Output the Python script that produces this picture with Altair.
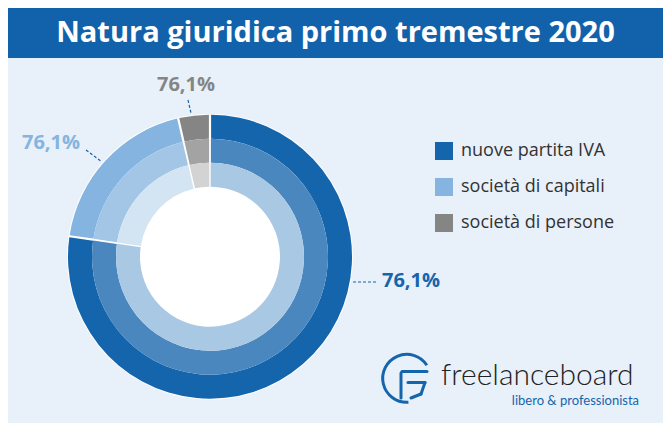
import math
import altair as alt
import pandas as pd

# ---- data ----
categories = ["nuove partita IVA", "società di capitali", "società di persone"]
shares = [77.3, 19.1, 3.6]
label_texts = ["76,1%", "76,1%", "76,1%"]
title_text = "Natura giuridica primo tremestre 2020"
brand_name = "freelanceboard"
brand_tag = "libero & professionista"

# ---- styles ----
BG = "#e8f0f9"
BANNER = "#1262ab"
outer_colors = ["#1565ad", "#84b4df", "#858585"]
mid_colors = ["#4a87be", "#a3c6e6", "#a3a3a3"]
inner_colors = ["#a9c8e3", "#d3e4f3", "#d3d3d3"]

df = pd.DataFrame({
    "category": categories,
    "share": shares,
    "idx": list(range(len(categories))),
    "c_mid": mid_colors,
    "c_inner": inner_colors,
})

W, H = 655, 415
CX, CY = 202, 248.7

base = alt.Chart(df)
one = alt.Chart(pd.DataFrame({"k": [0]}))

banner = one.mark_rect(color=BANNER).encode(
    x=alt.value(0), x2=alt.value(W), y=alt.value(0), y2=alt.value(50)
)
title = one.mark_text(
    text=title_text, font="Open Sans", fontWeight="bold", fontSize=29,
    color="white", align="center", baseline="alphabetic"
).encode(x=alt.value(327.5), y=alt.value(33.7))

white_disk = one.mark_arc(
    theta=0, theta2=2 * math.pi, radius=143, color="white"
).encode(x=alt.value(CX), y=alt.value(CY))

PAD = 0.012


def ring(r_in, r_out, color_enc):
    return base.mark_arc(radius=r_out, radius2=r_in, padAngle=PAD).encode(
        theta=alt.Theta("share:Q", stack=True),
        order=alt.Order("idx:Q"),
        color=color_enc,
        x=alt.value(CX),
        y=alt.value(CY),
    )


outer = ring(118, 142, alt.Color(
    "category:N",
    scale=alt.Scale(domain=categories, range=outer_colors),
    legend=alt.Legend(
        title=None, orient="none", legendX=427, legendY=134,
        symbolType="square", symbolSize=324, symbolStrokeWidth=0,
        symbolOpacity=1, labelFont="Open Sans", labelFontSize=18,
        labelColor="#333333", labelOffset=8, rowPadding=18, padding=0,
        labelLimit=300,
    ),
    sort=categories,
))
mid = ring(94, 118, alt.Color("c_mid:N", scale=None))
inner = ring(70, 94, alt.Color("c_inner:N", scale=None))


def label(text, x, y, color):
    return one.mark_text(
        text=text, font="Open Sans", fontWeight="bold", fontSize=20,
        color=color, align="center", baseline="middle"
    ).encode(x=alt.value(x), y=alt.value(y))


def seg(x1, y1, x2, y2, color, width=1.2, dash=None, cap="butt"):
    kw = dict(color=color, strokeWidth=width, strokeCap=cap)
    if dash:
        kw["strokeDash"] = dash
    return one.mark_rule(**kw).encode(
        x=alt.value(x1), y=alt.value(y1), x2=alt.value(x2), y2=alt.value(y2)
    )


lab_blue = label(label_texts[0], 403, 273, outer_colors[0])
lab_light = label(label_texts[1], 43, 135, outer_colors[1])
lab_grey = label(label_texts[2], 178, 77, outer_colors[2])

lead_blue = seg(345, 274, 368, 274, "#1565ad", dash=[3, 2])
lead_light = seg(78, 142, 94, 154, "#1565ad", dash=[3, 2])
lead_grey = seg(180, 92, 183, 105, "#1565ad", dash=[3, 2])

# logo
logo_arc = one.mark_arc(
    theta=3.07, theta2=7.28, radius=25.5, radius2=22.5, color="#1565ad"
).encode(x=alt.value(398.7), y=alt.value(370.3))
LC = "#1565ad"
logo_lines = [
    seg(393, 365, 393, 390, LC, 3, cap="round"),
    seg(394, 363.5, 419, 363.5, LC, 3, cap="round"),
    seg(400, 374.5, 417, 374.5, LC, 3, cap="round"),
    seg(417, 374.5, 413, 386, LC, 3, cap="round"),
    seg(413, 386, 403, 390, LC, 3, cap="round"),
]
brand = one.mark_text(
    text=brand_name, font="Lato", fontWeight=300, fontSize=30,
    color="#222222", align="left", baseline="alphabetic"
).encode(x=alt.value(433), y=alt.value(377))
tag = one.mark_text(
    text=brand_tag, font="Lato", fontSize=13,
    color="#1565ad", align="right", baseline="alphabetic"
).encode(x=alt.value(631), y=alt.value(396.5))

chart = alt.layer(
    banner, title, white_disk, outer, mid, inner,
    lead_blue, lead_light, lead_grey, lab_blue, lab_light, lab_grey,
    logo_arc, *logo_lines, brand, tag,
).properties(
    width=W, height=H,
    autosize=alt.AutoSizeParams(type="fit", contains="padding"),
    padding=0,
    background=BG,
).configure_view(stroke=None)

chart.save("out.html", embed_options={"renderer": "svg", "actions": False})
